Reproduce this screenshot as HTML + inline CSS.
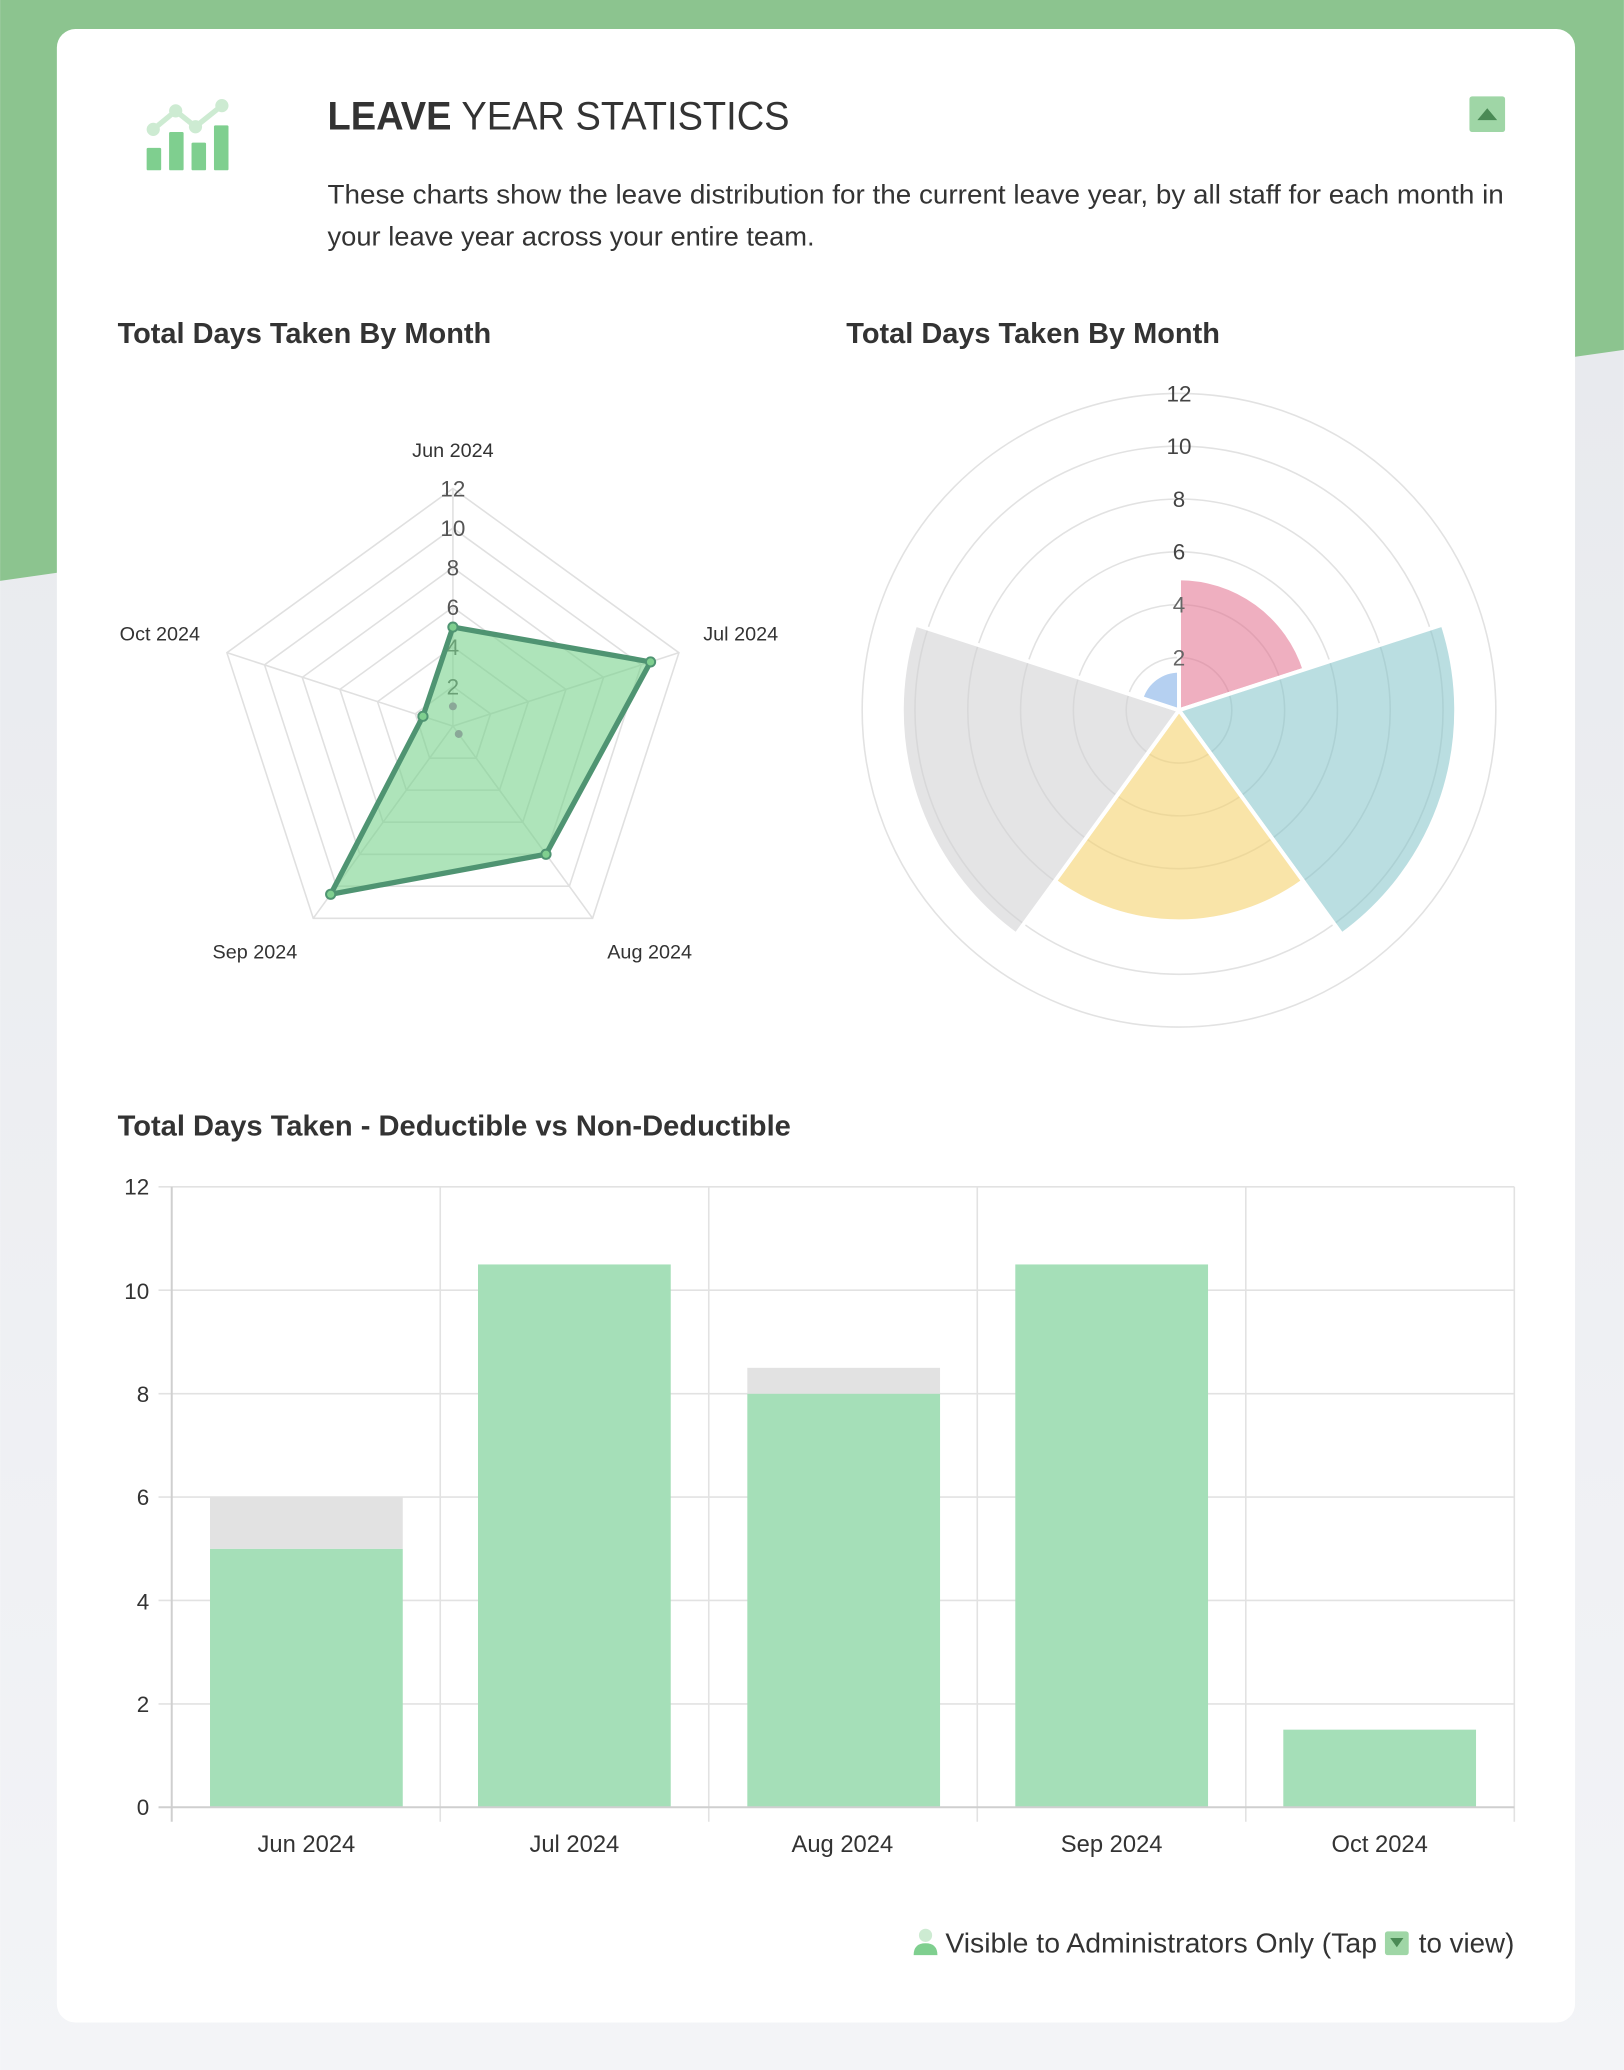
<!DOCTYPE html>
<html><head><meta charset="utf-8"><style>html,body{margin:0;padding:0;}svg{display:block}</style></head>
<body>
<svg width="1624" height="2070" viewBox="0 0 1230 1568" xmlns="http://www.w3.org/2000/svg" font-family="Liberation Sans, sans-serif">
<defs><linearGradient id="bg" x1="0" y1="0" x2="0" y2="1"><stop offset="0" stop-color="#e6e8ec"/><stop offset="1" stop-color="#f3f4f7"/></linearGradient></defs>
<rect width="1230" height="1568" fill="url(#bg)"/>
<polygon points="0,0 1230,0 1230,265 0,440" fill="#8cc48f"/>
<rect x="43" y="22" width="1150" height="1510" rx="14" fill="#fff"/>
<!-- icon -->
<polyline points="116,98 133,84 148,96 168,80" fill="none" stroke="#cdebd2" stroke-width="4"/>
<circle cx="116" cy="98" r="5" fill="#cdebd2"/><circle cx="133" cy="84" r="5" fill="#cdebd2"/><circle cx="148" cy="96" r="5" fill="#cdebd2"/><circle cx="168" cy="80" r="5" fill="#cdebd2"/>
<rect x="111" y="112" width="11" height="17" rx="1" fill="#7fcf8f"/><rect x="128" y="100" width="11" height="29" rx="1" fill="#7fcf8f"/><rect x="145" y="108" width="11" height="21" rx="1" fill="#7fcf8f"/><rect x="162" y="95" width="11" height="34" rx="1" fill="#7fcf8f"/>
<text x="248" y="98" font-size="30" fill="#333" textLength="350" lengthAdjust="spacingAndGlyphs"><tspan font-weight="bold">LEAVE</tspan> YEAR STATISTICS</text>
<rect x="1113" y="73" width="27" height="27" rx="2" fill="#9fd6a6"/>
<polygon points="1119,91 1134,91 1126.5,82" fill="#4a8a55"/>
<text x="248" y="154" font-size="20" fill="#333" textLength="891" lengthAdjust="spacingAndGlyphs">These charts show the leave distribution for the current leave year, by all staff for each month in</text>
<text x="248" y="186" font-size="20" fill="#333" textLength="369" lengthAdjust="spacingAndGlyphs">your leave year across your entire team.</text>
<text x="89" y="260" font-size="22" font-weight="bold" fill="#333" textLength="283" lengthAdjust="spacingAndGlyphs">Total Days Taken By Month</text>
<text x="641" y="260" font-size="22" font-weight="bold" fill="#333" textLength="283" lengthAdjust="spacingAndGlyphs">Total Days Taken By Month</text>
<!-- radar -->
<g fill="none" stroke="#e0e0e0" stroke-width="1.2">
<polygon points="343,520 371.5,540.7 360.6,574.3 325.4,574.3 314.5,540.7"/>
<polygon points="343,490 400.1,531.5 378.3,598.5 307.7,598.5 285.9,531.5"/>
<polygon points="343,460 428.6,522.2 395.9,622.8 290.1,622.8 257.4,522.2"/>
<polygon points="343,430 457.1,513.1 413.5,647.1 272.5,647.1 228.9,513.1"/>
<polygon points="343,400 485.7,503.6 431.2,671.3 254.8,671.3 200.3,503.6"/>
<polygon points="343,370 514.2,494.4 448.8,695.6 237.2,695.6 171.8,494.4"/>
<line x1="343" y1="550" x2="343" y2="370"/><line x1="343" y1="550" x2="514.2" y2="494.4"/><line x1="343" y1="550" x2="448.8" y2="695.6"/><line x1="343" y1="550" x2="237.2" y2="695.6"/><line x1="343" y1="550" x2="171.8" y2="494.4"/>
</g>
<g font-size="17" fill="#555" text-anchor="middle">
<text x="343" y="376">12</text><text x="343" y="406">10</text><text x="343" y="436">8</text><text x="343" y="466">6</text><text x="343" y="496">4</text><text x="343" y="526">2</text>
</g>
<polygon points="343,475 492.7,501.4 413.5,647.1 250.4,677.4 320.3,542.6" fill="rgba(120,210,140,0.6)" stroke="#4f9472" stroke-width="4" stroke-linejoin="round"/>
<g fill="#7fcf8f" stroke="#4f9472" stroke-width="1.5">
<circle cx="343" cy="475" r="3.5"/><circle cx="492.7" cy="501.4" r="3.5"/><circle cx="413.5" cy="647.1" r="3.5"/><circle cx="250.4" cy="677.4" r="3.5"/><circle cx="320.3" cy="542.6" r="3.5"/>
</g>
<circle cx="343" cy="535" r="3" fill="#8aa898"/><circle cx="347.4" cy="556" r="3" fill="#8aa898"/>
<g font-size="15" fill="#333" text-anchor="middle">
<text x="343" y="346">Jun 2024</text><text x="561" y="485">Jul 2024</text><text x="121" y="485">Oct 2024</text><text x="492" y="726">Aug 2024</text><text x="193" y="726">Sep 2024</text>
</g>
<!-- polar -->
<g fill="none" stroke="#e2e2e2" stroke-width="1.2">
<circle cx="893" cy="538" r="40"/><circle cx="893" cy="538" r="80"/><circle cx="893" cy="538" r="120"/><circle cx="893" cy="538" r="160"/><circle cx="893" cy="538" r="200"/><circle cx="893" cy="538" r="240"/>
</g>
<g stroke="#fff" stroke-width="3">
<path d="M893,538 L893,438 A100,100 0 0 1 988.1,507.1 Z" fill="rgba(226,110,140,0.55)"/>
<path d="M893,538 L1092.7,473.1 A210,210 0 0 1 1016.4,707.9 Z" fill="rgba(130,195,200,0.55)"/>
<path d="M893,538 L987.0,667.4 A160,160 0 0 1 799.0,667.4 Z" fill="rgba(245,210,110,0.6)"/>
<path d="M893,538 L769.6,707.9 A210,210 0 0 1 693.3,473.1 Z" fill="rgba(210,210,212,0.6)"/>
<path d="M893,538 L864.5,528.7 A30,30 0 0 1 893,508 Z" fill="rgba(120,170,230,0.55)"/>
</g>
<g font-size="17" fill="#444" text-anchor="middle">
<text x="893" y="304">12</text><text x="893" y="344">10</text><text x="893" y="384">8</text><text x="893" y="424">6</text><text x="893" y="464" fill="#666">4</text><text x="893" y="504" fill="#666">2</text>
</g>
<!-- bar chart -->
<text x="89" y="860" font-size="22" font-weight="bold" fill="#333" textLength="510" lengthAdjust="spacingAndGlyphs">Total Days Taken - Deductible vs Non-Deductible</text>
<g stroke="#e2e2e2" stroke-width="1.2">
<line x1="120" y1="899" x2="1147" y2="899"/><line x1="120" y1="977.3" x2="1147" y2="977.3"/><line x1="120" y1="1055.7" x2="1147" y2="1055.7"/><line x1="120" y1="1134" x2="1147" y2="1134"/><line x1="120" y1="1212.3" x2="1147" y2="1212.3"/><line x1="120" y1="1290.7" x2="1147" y2="1290.7"/>
<line x1="333.4" y1="899" x2="333.4" y2="1380"/><line x1="536.8" y1="899" x2="536.8" y2="1380"/><line x1="740.2" y1="899" x2="740.2" y2="1380"/><line x1="943.6" y1="899" x2="943.6" y2="1380"/><line x1="1147" y1="899" x2="1147" y2="1380"/>
</g>
<g fill="#a5dfb8">
<rect x="159" y="1173.2" width="146" height="195.8"/>
<rect x="362" y="957.8" width="146" height="411.2"/>
<rect x="566" y="1055.7" width="146" height="313.3"/>
<rect x="769" y="957.8" width="146" height="411.2"/>
<rect x="972" y="1310.2" width="146" height="58.8"/>
</g>
<rect x="159" y="1134" width="146" height="39.2" fill="#e2e2e2"/>
<rect x="566" y="1036.1" width="146" height="19.6" fill="#e2e2e2"/>
<g stroke="#cfcfcf" stroke-width="1.5"><line x1="130" y1="899" x2="130" y2="1380"/><line x1="120" y1="1369" x2="1147" y2="1369"/></g>
<g font-size="17" fill="#333" text-anchor="end">
<text x="113" y="905">12</text><text x="113" y="984">10</text><text x="113" y="1062">8</text><text x="113" y="1140">6</text><text x="113" y="1219">4</text><text x="113" y="1297">2</text><text x="113" y="1375">0</text>
</g>
<g font-size="18" fill="#333" text-anchor="middle">
<text x="232" y="1403">Jun 2024</text><text x="435" y="1403">Jul 2024</text><text x="638" y="1403">Aug 2024</text><text x="842" y="1403">Sep 2024</text><text x="1045" y="1403">Oct 2024</text>
</g>
<!-- footer -->
<circle cx="701" cy="1466" r="5" fill="#cdebd2"/>
<path d="M692,1481 Q692,1472 701,1472 Q710,1472 710,1481 Z" fill="#7fcf8f"/>
<text x="716" y="1479" font-size="21" fill="#333" textLength="327" lengthAdjust="spacingAndGlyphs">Visible to Administrators Only (Tap</text>
<rect x="1049" y="1463" width="18" height="18" rx="2" fill="#9fd6a6"/>
<polygon points="1053,1468 1063,1468 1058,1475" fill="#4a8a55"/>
<text x="1147" y="1479" font-size="21" fill="#333" text-anchor="end">to view)</text>
</svg>
</body></html>
